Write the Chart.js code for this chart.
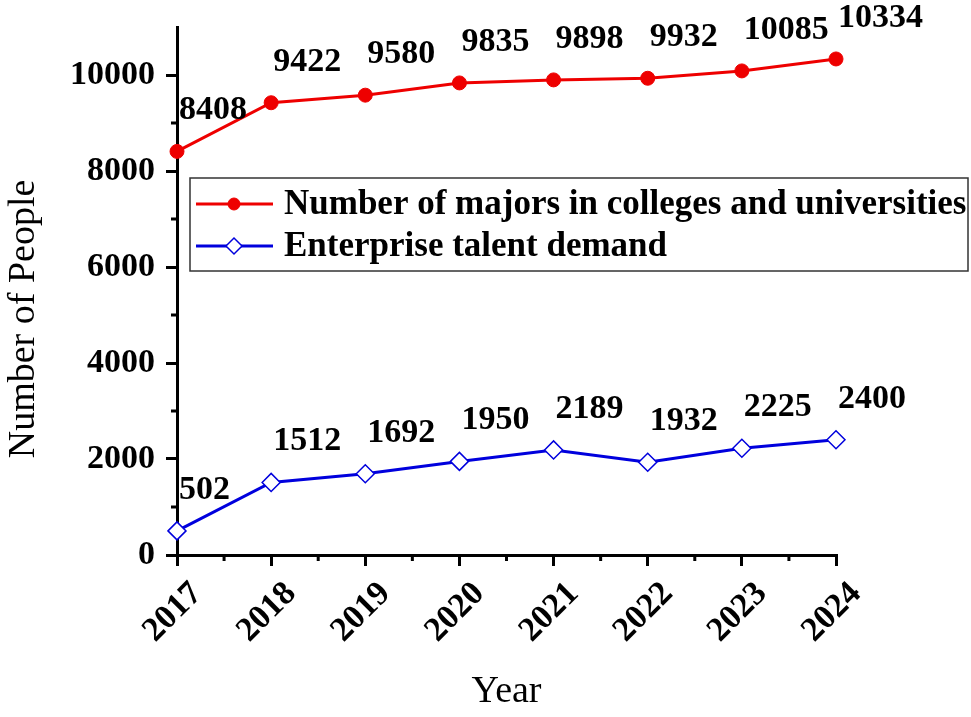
<!DOCTYPE html>
<html>
<head>
<meta charset="utf-8">
<script src="https://cdn.jsdelivr.net/npm/chart.js@4"></script>
<style>
  body { margin: 0; background: #fff; }
  canvas { display: block; }
</style>
</head>
<body>
<canvas id="talentChart" width="971" height="717"></canvas>
<script>
var years = ['2017', '2018', '2019', '2020', '2021', '2022', '2023', '2024'];
var majorsCount = [8408, 9422, 9580, 9835, 9898, 9932, 10085, 10334];
var talentDemand = [502, 1512, 1692, 1950, 2189, 1932, 2225, 2400];
var seriesNames = ['Number of majors in colleges and universities', 'Enterprise talent demand'];
var yTicks = [0, 2000, 4000, 6000, 8000, 10000];

var serif = '"Liberation Serif", "Times New Roman", serif';

// value labels above each point
var valueLabels = {
  id: 'valueLabels',
  afterDatasetsDraw: function(chart) {
    var ctx = chart.ctx;
    ctx.save();
    ctx.font = 'bold 34px ' + serif;
    ctx.fillStyle = '#000';
    ctx.textAlign = 'left';
    ctx.textBaseline = 'middle';
    chart.data.datasets.forEach(function(ds, i) {
      chart.getDatasetMeta(i).data.forEach(function(pt, j) {
        ctx.fillText(String(ds.data[j]), pt.x + 2, pt.y - 41);
      });
    });
    ctx.restore();
  }
};

// short minor ticks between the labelled ones + y title placed a bit low like the original
var axisExtras = {
  id: 'axisExtras',
  afterDraw: function(chart) {
    var ctx = chart.ctx, x = chart.scales.x, y = chart.scales.y;
    ctx.save();
    ctx.strokeStyle = '#000';
    ctx.lineWidth = 3;
    ctx.beginPath();
    for (var v = 1000; v < 11000; v += 2000) {
      var py = y.getPixelForValue(v);
      ctx.moveTo(x.left - 6, py);
      ctx.lineTo(x.left, py);
    }
    for (var i = 0; i < years.length - 1; i++) {
      var px = (x.getPixelForValue(i) + x.getPixelForValue(i + 1)) / 2;
      ctx.moveTo(px, y.bottom);
      ctx.lineTo(px, y.bottom + 6);
    }
    ctx.stroke();

    ctx.translate(24, y.getPixelForValue(5000) + 4);
    ctx.rotate(-Math.PI / 2);
    ctx.fillStyle = '#000';
    ctx.font = '38px ' + serif;
    ctx.textAlign = 'center';
    ctx.textBaseline = 'middle';
    ctx.fillText('Number of People', 0, 0);
    ctx.restore();
  }
};

// boxed legend inside the plot
var boxLegend = {
  id: 'boxLegend',
  afterDraw: function(chart) {
    var ctx = chart.ctx;
    ctx.save();
    ctx.strokeStyle = '#333';
    ctx.lineWidth = 1.5;
    ctx.strokeRect(190, 178, 778, 93);
    chart.data.datasets.forEach(function(ds, i) {
      var cy = 204 + i * 42;
      ctx.strokeStyle = ds.borderColor;
      ctx.lineWidth = 3;
      ctx.beginPath();
      ctx.moveTo(196, cy);
      ctx.lineTo(273, cy);
      ctx.stroke();
      ctx.fillStyle = ds.pointBackgroundColor;
      ctx.strokeStyle = ds.borderColor;
      ctx.lineWidth = ds.pointBorderWidth;
      Chart.helpers.drawPoint(ctx, {
        pointStyle: ds.pointStyle, radius: ds.pointRadius - 1, rotation: 0, borderWidth: ds.pointBorderWidth
      }, 234, cy);
      ctx.fillStyle = '#000';
      ctx.font = 'bold 35px ' + serif;
      ctx.textAlign = 'left';
      ctx.textBaseline = 'middle';
      ctx.fillText(ds.label, 284, cy + 1);
    });
    ctx.restore();
  }
};

var ctx = document.getElementById('talentChart').getContext('2d');
var plot = new Chart(ctx, {
  type: 'line',
  data: {
    labels: years,
    datasets: [{
      label: seriesNames[0],
      data: majorsCount,
      borderColor: '#ee0000',
      backgroundColor: '#ee0000',
      pointBackgroundColor: '#ee0000',
      pointBorderColor: '#ee0000',
      pointBorderWidth: 1,
      pointStyle: 'circle',
      pointRadius: 7,
      borderWidth: 3,
      tension: 0,
      fill: false,
      clip: false
    }, {
      label: seriesNames[1],
      data: talentDemand,
      borderColor: '#0000dd',
      backgroundColor: '#fff',
      pointBackgroundColor: '#fff',
      pointBorderColor: '#0000dd',
      pointBorderWidth: 1.5,
      pointStyle: 'rectRot',
      pointRadius: 9,
      borderWidth: 3,
      tension: 0,
      fill: false,
      clip: false
    }]
  },
  options: {
    responsive: false,
    animation: false,
    devicePixelRatio: 1,
    layout: { padding: { top: 27, right: 135, left: 0, bottom: 0 } },
    plugins: { legend: { display: false }, tooltip: { enabled: false } },
    scales: {
      x: {
        offset: false,
        grid: { drawOnChartArea: false, drawTicks: true, tickLength: 11, color: '#000', lineWidth: 3 },
        border: { color: '#000', width: 3 },
        ticks: {
          color: '#000', font: { family: serif, size: 34, weight: 'bold' },
          minRotation: 45, maxRotation: 45, padding: 8, labelOffset: 20
        },
        title: { display: true, text: 'Year', color: '#000', font: { family: serif, size: 38 }, padding: { top: 0, bottom: 2 } },
        afterFit: function(scale) { scale.height = 717 - 555; }
      },
      y: {
        min: 0,
        max: 11000,
        afterBuildTicks: function(scale) {
          scale.ticks = yTicks.map(function(v) { return { value: v }; });
        },
        grid: { drawOnChartArea: false, drawTicks: true, tickLength: 11, color: '#000', lineWidth: 3 },
        border: { color: '#000', width: 3 },
        ticks: {
          color: '#000', font: { family: serif, size: 34, weight: 'bold' }, padding: 11,
          callback: function(v) { return String(v); }
        },
        title: { display: false },
        afterFit: function(scale) {
          scale.width = 177;
          scale.paddingTop = 0;
          scale.paddingBottom = 0;
        }
      }
    }
  },
  plugins: [valueLabels, axisExtras, boxLegend]
});
</script>
</body>
</html>
